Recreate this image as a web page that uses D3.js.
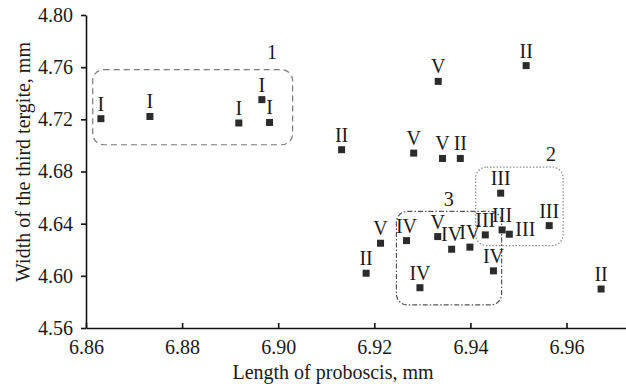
<!DOCTYPE html>
<html>
<head>
<meta charset="utf-8">
<script src="https://cdn.jsdelivr.net/npm/d3@7"></script>
<style>
  body { margin: 0; background: #fff; }
  svg text { font-family: "Liberation Serif", "Times New Roman", serif; fill: #1a1a1a; }
  .axis path, .axis line { stroke: #111; stroke-width: 1.6px; }
</style>
</head>
<body>
<svg id="chart" width="626" height="384"></svg>
<script>
// proboscis length (mm), tergite width (mm) and group of each specimen
const lengths = [6.8631, 6.8733, 6.8918, 6.8966, 6.8982, 6.9333, 6.9516, 6.9132, 6.9282, 6.9342,
                 6.9379, 6.9463, 6.9213, 6.9183, 6.9267, 6.9332, 6.9361, 6.9399, 6.9431, 6.9466,
                 6.9481, 6.9564, 6.9448, 6.9295, 6.9672];
const widths = [4.7205, 4.7222, 4.7172, 4.7351, 4.7176, 4.7491, 4.7612, 4.6967, 4.6941, 4.6900,
                4.6900, 4.6634, 4.6250, 4.6020, 4.6270, 4.6301, 4.6204, 4.6220, 4.6314, 4.6352,
                4.6319, 4.6385, 4.6038, 4.5909, 4.5899];
const groups = ['I', 'I', 'I', 'I', 'I', 'V', 'II', 'II', 'V', 'V',
                'II', 'III', 'V', 'II', 'IV', 'V', 'IV', 'IV', 'III', 'III',
                'III', 'III', 'IV', 'IV', 'II'];

const xTicks = [6.86, 6.88, 6.90, 6.92, 6.94, 6.96];
const yTicks = [4.56, 4.60, 4.64, 4.68, 4.72, 4.76, 4.80];

// clusters outlined on the plot: [x0, x1, y0, y1] in data units
const clusterNames = ['1', '2', '3'];
const clusterBounds = [
    [6.8614, 6.9030, 4.7005, 4.7581],
    [6.9411, 6.9593, 4.6232, 4.6834],
    [6.9246, 6.9465, 4.5777, 4.6494]
];
const clusterLabelAt = [[6.8987, 4.7665], [6.9568, 4.6882], [6.9355, 4.6537]];

const svg = d3.select('#chart');
const x = d3.scaleLinear().domain([6.86, 6.98]).range([86, 662.6]);
const y = d3.scaleLinear().domain([4.56, 4.80]).range([328, 15]);

// cluster outlines
const dashes = ['6,4', '1.5,1.8', '5,2,1.5,2'];
const outlineColor = ['#7a7a7a', '#8a8a8a', '#555'];
clusterBounds.forEach((b, i) => {
    svg.append('rect')
        .attr('x', x(b[0])).attr('y', y(b[3]))
        .attr('width', x(b[1]) - x(b[0]))
        .attr('height', y(b[2]) - y(b[3]))
        .attr('rx', 11).attr('ry', 11)
        .attr('fill', 'none')
        .attr('stroke', outlineColor[i])
        .attr('stroke-width', 1.2)
        .attr('stroke-dasharray', dashes[i]);
    svg.append('text')
        .attr('x', x(clusterLabelAt[i][0])).attr('y', y(clusterLabelAt[i][1]))
        .attr('text-anchor', 'middle')
        .style('font-size', '20px')
        .text(clusterNames[i]);
});

// axes
const xAxis = svg.append('g').attr('class', 'axis')
    .attr('transform', 'translate(0,' + y(4.56) + ')')
    .call(d3.axisBottom(x).tickValues(xTicks).tickFormat(d3.format('.2f')).tickSizeInner(-5).tickSizeOuter(0));
xAxis.selectAll('text').style('font-size', '20px').attr('y', 12);

const yAxis = svg.append('g').attr('class', 'axis')
    .attr('transform', 'translate(' + x(6.86) + ',0)')
    .call(d3.axisLeft(y).tickValues(yTicks).tickFormat(d3.format('.2f')).tickSizeInner(5).tickSizeOuter(0));
yAxis.selectAll('text').style('font-size', '20px').attr('x', -13);

// points
const pts = lengths.map((v, i) => ({ len: v, wid: widths[i], grp: groups[i] }));
svg.selectAll('.pt').data(pts).enter()
    .append('rect')
    .attr('class', 'pt')
    .attr('x', d => x(d.len) - 3.5)
    .attr('y', d => y(d.wid) - 3.5)
    .attr('width', 7).attr('height', 7)
    .attr('fill', '#2b2b2b');

// roman group labels, one sits to the right of its point
const labelledRight = new Set([20]);
svg.selectAll('.lbl').data(pts).enter()
    .append('text')
    .attr('class', 'lbl')
    .attr('x', (d, i) => labelledRight.has(i) ? x(d.len) + 6 : x(d.len))
    .attr('y', (d, i) => labelledRight.has(i) ? y(d.wid) + 2 : y(d.wid) - 8)
    .attr('text-anchor', (d, i) => labelledRight.has(i) ? 'start' : 'middle')
    .style('font-size', '20px')
    .text(d => d.grp);

// axis titles
svg.append('text')
    .attr('x', 333).attr('y', 379)
    .attr('text-anchor', 'middle')
    .style('font-size', '20px')
    .text('Length of proboscis, mm');

svg.append('text')
    .attr('transform', 'translate(30,162) rotate(-90)')
    .attr('text-anchor', 'middle')
    .style('font-size', '20px')
    .text('Width of the third tergite, mm');
</script>
</body>
</html>
